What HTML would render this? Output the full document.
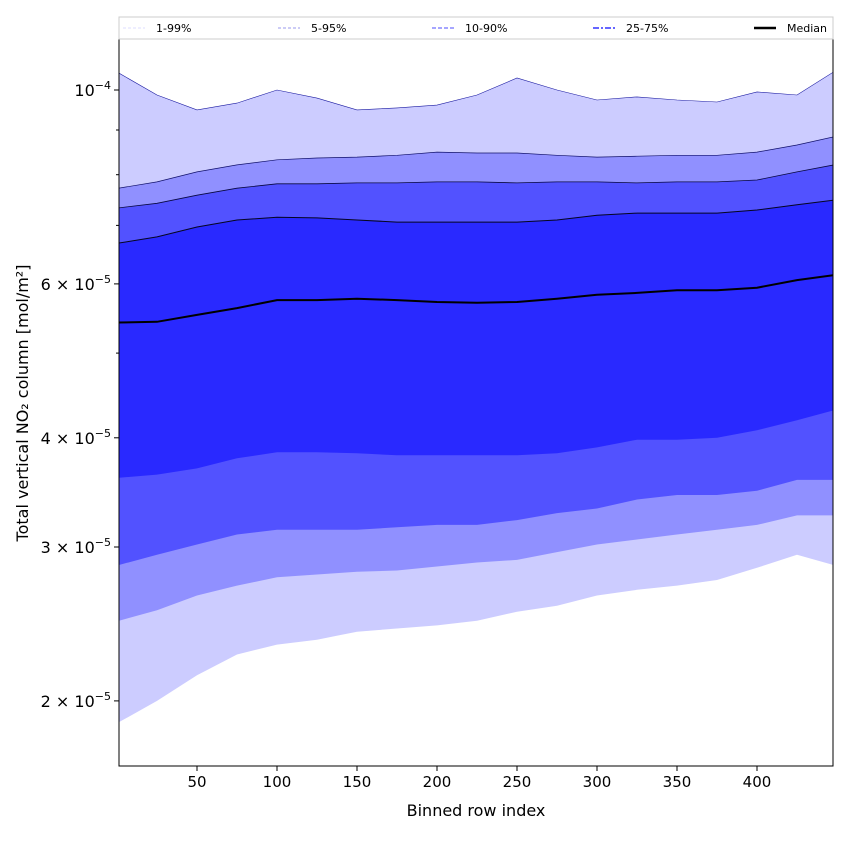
<!DOCTYPE html>
<html><head><meta charset="utf-8"><style>
body{margin:0;background:#fff;font-family:"Liberation Sans","DejaVu Sans",sans-serif}
svg text{font-family:"DejaVu Sans","Liberation Sans",sans-serif}
</style></head><body>
<svg id="c" width="850" height="850" xmlns="http://www.w3.org/2000/svg"></svg>
<script>
const rows=[1,25,50,75,100,125,150,175,200,225,250,275,300,325,350,375,400,425,448];
const p99=[10.46,9.87,9.49,9.66,10.0,9.79,9.49,9.54,9.61,9.87,10.32,10.0,9.74,9.82,9.74,9.69,9.95,9.87,10.49];
const p95=[7.72,7.85,8.06,8.21,8.32,8.36,8.38,8.42,8.49,8.47,8.47,8.42,8.38,8.40,8.42,8.42,8.49,8.65,8.84];
const p90=[7.33,7.42,7.58,7.72,7.81,7.81,7.83,7.83,7.85,7.85,7.83,7.85,7.85,7.83,7.85,7.85,7.89,8.06,8.21];
const p75=[6.68,6.79,6.97,7.10,7.15,7.14,7.10,7.06,7.06,7.06,7.06,7.10,7.19,7.23,7.23,7.23,7.29,7.39,7.48];
const p50=[5.42,5.43,5.53,5.63,5.75,5.75,5.77,5.75,5.72,5.71,5.72,5.77,5.83,5.86,5.90,5.90,5.94,6.06,6.14];
const p25=[3.60,3.63,3.69,3.79,3.85,3.85,3.84,3.82,3.82,3.82,3.82,3.84,3.90,3.98,3.98,4.00,4.08,4.19,4.30];
const p10=[2.86,2.94,3.02,3.10,3.14,3.14,3.14,3.16,3.18,3.18,3.22,3.28,3.32,3.40,3.44,3.44,3.48,3.58,3.58];
const p5=[2.47,2.54,2.64,2.71,2.77,2.79,2.81,2.82,2.85,2.88,2.90,2.96,3.02,3.06,3.10,3.14,3.18,3.26,3.26];
const p1=[1.89,2.00,2.14,2.26,2.32,2.35,2.40,2.42,2.44,2.47,2.53,2.57,2.64,2.68,2.71,2.75,2.84,2.94,2.86];
const xTicks=[50,100,150,200,250,300,350,400];
const yTicks=[10,6,4,3,2];
const yTickLabels=["10","6","4","3","2"];
const L=119,R=833,T=39,B=766;
const xs=v=>117+v*1.6;
const ys=v=>90+(-Math.log10(v/10))*874;
const svg=document.getElementById('c');const NS='http://www.w3.org/2000/svg';
function mk(t,a,p){const e=document.createElementNS(NS,t);for(const k in a)e.setAttribute(k,a[k]);(p||svg).appendChild(e);return e;}
const clip=mk('clipPath',{id:'pc'});mk('rect',{x:L,y:T,width:R-L,height:B-T},clip);
const g=mk('g',{'clip-path':'url(#pc)'});
function pts(a){return rows.map((r,i)=>xs(r).toFixed(1)+','+ys(a[i]).toFixed(1));}
function band(lo,hi,col,name){const d='M'+pts(hi).join('L')+'L'+pts(lo).reverse().join('L')+'Z';
 const e=mk('path',{d:d,fill:col,stroke:'none'},g);
 
 }
function line(a,col,w,name){const e=mk('path',{d:'M'+pts(a).join('L'),fill:'none',stroke:col,'stroke-width':w},g);
 
 }
band(p1,p99,'#ccccff','band-1-99');
band(p5,p95,'#9090ff','band-5-95');
band(p10,p90,'#5252ff','band-10-90');
band(p25,p75,'#2929ff','band-25-75');
line(p99,'#1a1aa0',0.6,'p99-line');line(p95,'#10106a',0.7,'p95-line');line(p90,'#080840',0.8,'p90-line');line(p75,'#050520',1,'p75-line');
line(p50,'#000',2,'median-line');
mk('rect',{x:L,y:T,width:R-L,height:B-T,fill:'none',stroke:'#000','stroke-width':1});
xTicks.forEach(v=>{const x=xs(v);mk('line',{x1:x,x2:x,y1:B,y2:B+5,stroke:'#000'});
 const t=mk('text',{x:x,y:B+21,'text-anchor':'middle','font-size':15});t.textContent=v;
 
 });
yTicks.forEach((v,i)=>{const y=ys(v);mk('line',{x1:L-5,x2:L,y1:y,y2:y,stroke:'#000'});
 const t=mk('text',{x:L-8,y:y+6,'text-anchor':'end','font-size':16});
 if(v===10){t.innerHTML='10<tspan dy="-7" font-size="11">\u22124</tspan>';}
 else{t.innerHTML=yTickLabels[i]+' \u00d7 10<tspan dy="-7" font-size="11">\u22125</tspan>';}
 
 });
[9,8,7,5].forEach(v=>{const y=ys(v);mk('line',{x1:L-3,x2:L,y1:y,y2:y,stroke:'#000'});});
const xl=mk('text',{x:476,y:816,'text-anchor':'middle','font-size':16});xl.textContent='Binned row index';

const yl=mk('text',{x:28,y:403,'text-anchor':'middle','font-size':16,transform:'rotate(-90 28 403)'});yl.textContent='Total vertical NO\u2082 column [mol/m\u00b2]';

const lg=mk('g',{});
mk('rect',{x:119,y:17,width:714,height:22,fill:'#fff',stroke:'#ccc'},lg);
const leg=[['1-99%',123,'#ddddff','3,2',1],['5-95%',278,'#9999ee','3,2',1],['10-90%',432,'#8888ff','4,2',1.5],['25-75%',593,'#6666ff','6,2,2,2',2],['Median',754,'#000','',2.5]];
leg.forEach(e=>{const a={x1:e[1],x2:e[1]+22,y1:28,y2:28,stroke:e[2],'stroke-width':e[4]};if(e[3])a['stroke-dasharray']=e[3];mk('line',a,lg);
 const t=mk('text',{x:e[1]+33,y:32,'font-size':11},lg);t.textContent=e[0];
 
 });
</script>
</body></html>
